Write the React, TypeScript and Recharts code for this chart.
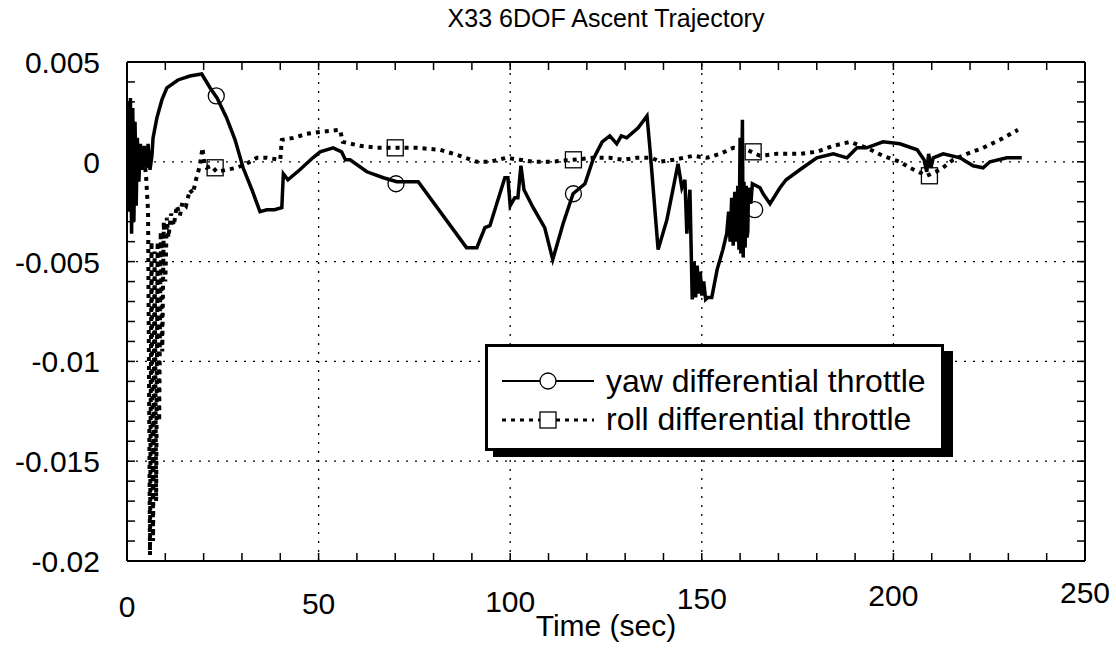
import React from 'react';
import { ComposedChart, Line, Scatter, XAxis, YAxis, ReferenceLine, Legend } from 'recharts';

// yaw differential throttle: [time (sec), value]
const yawPoints: [number, number][] = [
  [0, 0], [0.3, 0.003], [0.6, -0.0025], [0.9, 0.0032], [1.2, -0.0036], [1.5, 0.0027], [1.8, -0.003],
  [2.1, 0.002], [2.4, -0.0022], [2.7, 0.0012], [3.1, -0.001], [3.5, 0.0009], [4.0, -0.0004], [4.5, 0.0008],
  [5.0, -0.0003], [5.5, 0.0009], [6.0, -0.0004], [6.5, 0.0003], [6.8, 0.0012], [7.8, 0.0022], [9.1, 0.0031],
  [10.4, 0.0037], [13.3, 0.0041], [16.4, 0.0043], [19.5, 0.0044], [21.7, 0.0037], [23.5, 0.0032], [26, 0.0022],
  [28.2, 0.0011], [30.3, -0.0003], [32.6, -0.0014], [34.7, -0.0025], [36.5, -0.0024], [38.5, -0.0024],
  [40.4, -0.0023], [40.8, -0.0006], [42, -0.0009], [45.1, -0.0004], [48.5, 0.0002], [50.4, 0.0005],
  [53.8, 0.0007], [56, 0.0005], [57, 0.0001], [58.2, 0.0001], [62.6, -0.0005], [66.9, -0.0008], [70.4, -0.001],
  [76, -0.001], [88.6, -0.0043], [91.3, -0.0043], [93.4, -0.0033], [94.7, -0.0032], [98.6, -0.0008],
  [99.4, -0.0008], [100, -0.0022], [101.2, -0.0018], [102, -0.0018], [102.8, -0.0002], [103.6, -0.0014],
  [106, -0.0023], [109, -0.0033], [111.1, -0.0049], [113.8, -0.0031], [116.4, -0.0016], [119.5, -0.0011],
  [121.6, 0.0001], [124, 0.001], [126, 0.0013], [127.8, 0.0009], [129, 0.0013], [130.4, 0.0012],
  [133.4, 0.0017], [135.7, 0.0023], [136.5, 0.0006], [138.6, -0.0044], [140.9, -0.0029], [143.8, -0.0001],
  [144.8, -0.0013], [145.6, -0.0009], [146.1, -0.0036], [146.9, -0.0014], [147.5, -0.0069], [148, -0.005],
  [148.4, -0.0068], [148.8, -0.0052], [149.2, -0.0066], [149.6, -0.0055], [150, -0.0067], [150.5, -0.006],
  [151, -0.0069], [151.6, -0.0068], [152.6, -0.0068], [154, -0.0054], [155.5, -0.0044], [156.5, -0.0036],
  [157, -0.0025], [157.4, -0.004], [157.8, -0.0018], [158.2, -0.0042], [158.6, -0.0015], [159, -0.004],
  [159.2, -0.0022], [159.4, -0.0012], [159.7, -0.0044], [160, 0.0012], [160.2, -0.0046], [160.4, -0.0008],
  [160.6, 0.0021], [160.8, -0.0048], [161, -0.001], [161.3, -0.0043], [161.6, -0.0012], [161.8, -0.0038],
  [162, -0.0035], [162.2, -0.0013], [162.4, -0.0015], [162.8, -0.0021], [163.2, -0.0011], [165.2, -0.0013],
  [166, -0.0016], [167.8, -0.0021], [170.4, -0.0013], [172, -0.0009], [175.6, -0.0004], [180, 0.0002],
  [184.3, 0.0004], [187.9, 0.0002], [190.5, 0.0007], [193, 0.0007], [197.3, 0.001], [201.7, 0.0009],
  [206.2, 0.0006], [208, 0.0001], [208.7, -0.0005], [209.2, 0.0004], [209.8, -0.0003], [210.4, 0.0002],
  [213, 0.0004], [217.4, 0.0002], [220.8, -0.0002], [223.4, -0.0003], [225.2, 0], [229.6, 0.0002],
  [233.5, 0.0002],
];

// roll differential throttle: [time (sec), value]
const rollPoints: [number, number][] = [
  [0, 0], [0.5, 0.0004], [1, -0.0003], [1.5, 0.0006], [2, -0.0008], [2.5, 0.0003], [3, -0.0006],
  [3.5, 0.0005], [4, -0.0004], [4.5, 0.0002], [5, -0.0008], [5.5, -0.0025], [6, -0.0197], [6.4, -0.004],
  [6.8, -0.019], [7.2, -0.0045], [7.6, -0.017], [8, -0.004], [8.4, -0.013], [8.8, -0.0035], [9.2, -0.0095],
  [9.6, -0.003], [10, -0.006], [10.4, -0.0028], [10.8, -0.0038], [11.5, -0.0026], [12.2, -0.0032],
  [13, -0.0022], [13.8, -0.0027], [14.5, -0.002], [15.4, -0.0022], [16.4, -0.0014], [17.2, -0.0016],
  [18, -0.0009], [19, -0.0002], [19.7, 0.0007], [20.2, -0.0001], [20.8, -0.0003], [22, -0.0002],
  [23.4, -0.0005], [26, -0.0004], [28.6, -0.0003], [31.2, -0.0001], [33.9, 0.0002], [36.5, 0.0002],
  [40, 0.0001], [40.4, 0.0011], [43.4, 0.0012], [46.9, 0.0014], [50.4, 0.0015], [55.6, 0.0016],
  [56.3, 0.001], [60.8, 0.0008], [65.2, 0.0007], [70, 0.0007], [75.6, 0.0007], [81.7, 0.0006],
  [86.9, 0.0003], [91.3, 0], [94.7, 0], [99, 0.0002], [102.6, 0.0001], [106, 0], [110.4, 0],
  [116.4, 0.0001], [121.6, 0.0002], [126, 0.0002], [129.5, 0.0001], [133, 0.0002], [137, 0.0002], [139, 0],
  [142.6, 0.0001], [147.8, 0.0003], [151.3, 0.0002], [154.8, 0.0004], [158.2, 0.0007], [161.8, 0.0006],
  [165.2, 0.0003], [169.6, 0.0004], [175.6, 0.0004], [180, 0.0005], [184.3, 0.0008], [188.7, 0.001],
  [193, 0.0007], [197.3, 0.0003], [201.7, 0], [204.3, -0.0003], [208.7, -0.0007], [212.2, -0.0004],
  [215.6, 0.0001], [219.2, 0.0004], [223.4, 0.0007], [227.8, 0.0011], [232.5, 0.0016],
];

const yawMarkers: [number, number][] = [[23.3, 0.0033], [70.2, -0.0011], [116.5, -0.0016], [163.8, -0.0024]];
const rollMarkers: [number, number][] = [[23.0, -0.0003], [70.0, 0.0007], [116.5, 0.0001], [163.4, 0.0005], [209.4, -0.0007]];

const xTicks = [0, 10, 20, 30, 40, 50, 60, 70, 80, 90, 100, 110, 120, 130, 140, 150, 160, 170, 180, 190, 200, 210, 220, 230, 240, 250];
const xLabels = [0, 50, 100, 150, 200, 250];
const xGrid = [50, 100, 150, 200];
const yTicks = [
  0.005, 0.004, 0.003, 0.002, 0.001, 0, -0.001, -0.002, -0.003, -0.004, -0.005, -0.006, -0.007,
  -0.008, -0.009, -0.01, -0.011, -0.012, -0.013, -0.014, -0.015, -0.016, -0.017, -0.018, -0.019, -0.02,
];
const yLabels = [0.005, 0, -0.005, -0.01, -0.015, -0.02];
const yGrid = [0, -0.005, -0.01, -0.015];

const W = 1116;
const H = 656;
const LEFT = 127;
const TOP = 62;
const RIGHT = 1085;
const BOTTOM = 561;
const FONT = '"Liberation Sans", Arial, Helvetica, sans-serif';

const toXY = (pts: [number, number][]) => pts.map(([t, v]) => ({ t, v }));
const has = (list: number[], v: number) => list.some((m) => Math.abs(m - v) < 1e-9);

function LeftTick({ y, payload }: any) {
  const v = payload.value;
  return (
    <g>
      <line x1={LEFT} x2={LEFT + 8} y1={y} y2={y} stroke="#000" strokeWidth={1.5} />
      {has(yLabels, v) && (
        <text x={100} y={y + 11} textAnchor="end" fontSize={30} fontFamily={FONT} fill="#000">
          {String(v)}
        </text>
      )}
    </g>
  );
}

function RightTick({ y }: any) {
  return <line x1={RIGHT} x2={RIGHT - 8} y1={y} y2={y} stroke="#000" strokeWidth={1.5} />;
}

function BottomTick({ x, payload }: any) {
  const v = payload.value;
  return (
    <g>
      <line x1={x} x2={x} y1={BOTTOM} y2={BOTTOM - 8} stroke="#000" strokeWidth={1.5} />
      {has(xLabels, v) && (
        <text x={x} y={BOTTOM + 56 - v * 0.055} textAnchor="middle" fontSize={30} fontFamily={FONT} fill="#000">
          {String(v)}
        </text>
      )}
    </g>
  );
}

function TopTick({ x }: any) {
  return <line x1={x} x2={x} y1={TOP} y2={TOP + 8} stroke="#000" strokeWidth={1.5} />;
}

const circleShape = (p: any) => <circle cx={p.cx} cy={p.cy} r={8} fill="none" stroke="#000" strokeWidth={1.3} />;
const squareShape = (p: any) => (
  <rect x={p.cx - 8} y={p.cy - 8} width={16} height={16} fill="none" stroke="#000" strokeWidth={1.3} />
);

function LegendBox() {
  return (
    <svg width={472} height={116} style={{ display: 'block' }}>
      <rect x={8} y={7} width={460} height={106} fill="#000" />
      <rect x={1.5} y={1.5} width={456} height={104} fill="#fff" stroke="#000" strokeWidth={3} />
      <line x1={17} x2={109} y1={37} y2={37} stroke="#000" strokeWidth={2} />
      <circle cx={63} cy={37} r={8} fill="#fff" stroke="#000" strokeWidth={1.3} />
      <text x={121} y={48} fontSize={32} fontFamily={FONT} fill="#000">yaw differential throttle</text>
      <line x1={17} x2={109} y1={76} y2={76} stroke="#000" strokeWidth={3} strokeDasharray="4 5" />
      <rect x={55} y={68} width={16} height={16} fill="#fff" stroke="#000" strokeWidth={1.3} />
      <text x={121} y={86} fontSize={32} fontFamily={FONT} fill="#000">roll differential throttle</text>
    </svg>
  );
}

export default function App() {
  const yawData = toXY(yawPoints);
  const rollData = toXY(rollPoints);
  const yawMarkData = toXY(yawMarkers);
  const rollMarkData = toXY(rollMarkers);

  return (
    <div style={{ position: 'absolute', left: 0, top: 0, width: W, height: H, background: '#fff', fontFamily: FONT }}>
      <div
        style={{ position: 'absolute', left: 306, top: 6, width: 600, textAlign: 'center', fontSize: 25, lineHeight: '25px', color: '#000' }}
      >
        X33 6DOF Ascent Trajectory
      </div>
      <ComposedChart width={W} height={H} margin={{ top: 61, right: 30, bottom: 35, left: 27 }}>
        <XAxis
          xAxisId="b"
          type="number"
          dataKey="t"
          domain={[0, 250]}
          allowDataOverflow
          ticks={xTicks}
          interval={0}
          height={60}
          tickSize={0}
          tick={<BottomTick />}
          axisLine={{ stroke: '#000', strokeWidth: 2 }}
        />
        <XAxis
          xAxisId="top"
          orientation="top"
          type="number"
          dataKey="t"
          domain={[0, 250]}
          allowDataOverflow
          ticks={xTicks}
          interval={0}
          height={1}
          tickSize={0}
          tick={<TopTick />}
          axisLine={{ stroke: '#000', strokeWidth: 2 }}
        />
        <YAxis
          yAxisId="l"
          type="number"
          dataKey="v"
          domain={[-0.02, 0.005]}
          allowDataOverflow
          ticks={yTicks}
          interval={0}
          width={100}
          tickSize={0}
          tick={<LeftTick />}
          axisLine={{ stroke: '#000', strokeWidth: 2 }}
        />
        <YAxis
          yAxisId="r"
          orientation="right"
          type="number"
          dataKey="v"
          domain={[-0.02, 0.005]}
          allowDataOverflow
          ticks={yTicks}
          interval={0}
          width={1}
          tickSize={0}
          tick={<RightTick />}
          axisLine={{ stroke: '#000', strokeWidth: 2 }}
        />
        {xGrid.map((t) => (
          <ReferenceLine key={'gx' + t} xAxisId="b" yAxisId="l" x={t} stroke="#000" strokeWidth={1.3} strokeDasharray="2 7" />
        ))}
        {yGrid.map((v) => (
          <ReferenceLine key={'gy' + v} xAxisId="b" yAxisId="l" y={v} stroke="#000" strokeWidth={1.3} strokeDasharray="2 7" />
        ))}
        <Line
          xAxisId="b"
          yAxisId="l"
          data={rollData}
          dataKey="v"
          type="linear"
          stroke="#000"
          strokeWidth={4}
          strokeDasharray="4 5"
          dot={false}
          activeDot={false}
          isAnimationActive={false}
          name="roll differential throttle"
        />
        <Line
          xAxisId="b"
          yAxisId="l"
          data={yawData}
          dataKey="v"
          type="linear"
          stroke="#000"
          strokeWidth={3.5}
          dot={false}
          activeDot={false}
          isAnimationActive={false}
          name="yaw differential throttle"
        />
        <Scatter xAxisId="b" yAxisId="l" data={yawMarkData} dataKey="v" shape={circleShape} isAnimationActive={false} />
        <Scatter xAxisId="b" yAxisId="l" data={rollMarkData} dataKey="v" shape={squareShape} isAnimationActive={false} />
        <Legend
          layout="horizontal"
          verticalAlign="middle"
          align="center"
          content={() => <LegendBox />}
          wrapperStyle={{ left: 485, top: 344, width: 472, height: 116 }}
        />
      </ComposedChart>
      <div
        style={{ position: 'absolute', left: 456, top: 611, width: 300, textAlign: 'center', fontSize: 30, lineHeight: '30px', color: '#000' }}
      >
        Time (sec)
      </div>
    </div>
  );
}
